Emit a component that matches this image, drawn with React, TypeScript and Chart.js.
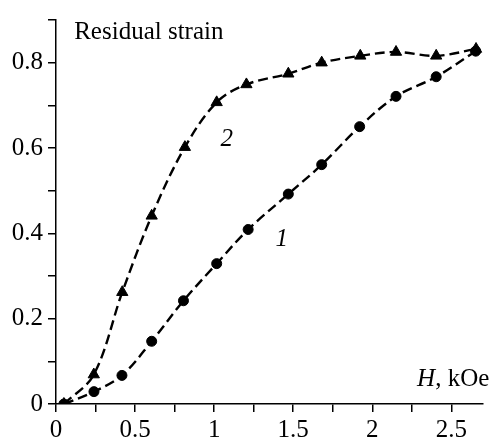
import React, { useEffect, useRef } from "react";
import { Chart, registerables } from "chart.js";

Chart.register(...registerables);

// Series 1 (circles)
const h1 = [0.05, 0.24, 0.417, 0.605, 0.806, 1.016, 1.215, 1.469, 1.68, 1.92, 2.15, 2.404, 2.654];
const strain1 = [0.0, 0.029, 0.067, 0.147, 0.242, 0.329, 0.409, 0.492, 0.561, 0.65, 0.721, 0.767, 0.827];

// Series 2 (triangles)
const h2 = [0.05, 0.239, 0.419, 0.605, 0.815, 1.016, 1.204, 1.469, 1.68, 1.924, 2.15, 2.404, 2.656];
const strain2 = [0.0, 0.069, 0.262, 0.441, 0.602, 0.707, 0.749, 0.774, 0.8, 0.816, 0.825, 0.816, 0.832];

const xTickValues = [0, 0.25, 0.5, 0.75, 1, 1.25, 1.5, 1.75, 2, 2.25, 2.5];
const xTickLabels = ["0", "", "0.5", "", "1", "", "1.5", "", "2", "", "2.5"];
const yTickValues = [0, 0.1, 0.2, 0.3, 0.4, 0.5, 0.6, 0.7, 0.8, 0.9];
const yTickLabels = ["0", "", "0.2", "", "0.4", "", "0.6", "", "0.8", ""];

const FONT = "'Liberation Serif', 'Times New Roman', serif";
const FS = 25;

Chart.defaults.font.family = FONT;
Chart.defaults.font.size = FS;
Chart.defaults.color = "#000";

const textPlugin = {
  id: "annotText",
  afterDraw(chart: any) {
    const { ctx, scales } = chart;
    const xs = scales.x;
    const ys = scales.y;
    ctx.save();
    ctx.fillStyle = "#000";
    ctx.textBaseline = "alphabetic";
    ctx.font = `${FS}px ${FONT}`;
    ctx.textAlign = "left";
    ctx.fillText("Residual strain", xs.getPixelForValue(0.115), ys.getPixelForValue(0.856));
    ctx.font = `italic ${FS}px ${FONT}`;
    ctx.textAlign = "center";
    ctx.textBaseline = "middle";
    ctx.fillText("2", xs.getPixelForValue(1.08), ys.getPixelForValue(0.62));
    ctx.fillText("1", xs.getPixelForValue(1.427), ys.getPixelForValue(0.386));
    ctx.textBaseline = "alphabetic";
    ctx.textAlign = "right";
    ctx.font = `${FS}px ${FONT}`;
    const rightX = xs.getPixelForValue(2.74);
    const baseY = ys.getPixelForValue(0.043);
    const rest = ", kOe";
    const wRest = ctx.measureText(rest).width;
    ctx.fillText(rest, rightX, baseY);
    ctx.font = `italic ${FS}px ${FONT}`;
    ctx.fillText("H", rightX - wRest, baseY);
    ctx.restore();
  },
};

export default function App() {
  const ref = useRef<HTMLCanvasElement>(null);
  useEffect(() => {
    if (!ref.current) return;
    const line = {
      borderColor: "#000",
      borderWidth: 2.4,
      borderDash: [10, 5],
      tension: 0.35,
      pointBackgroundColor: "#000",
      pointBorderColor: "#000",
      pointBorderWidth: 1,
      showLine: true,
      fill: false,
    };
    const gridOpts = {
      display: true,
      drawOnChartArea: false,
      drawTicks: true,
      tickLength: 8,
      color: "#000",
      lineWidth: 1.5,
    };
    const tickFont = { family: FONT, size: FS, style: "normal" as const, weight: "normal" as const };
    const chart = new Chart(ref.current, {
      type: "scatter",
      data: {
        datasets: [
          {
            ...line,
            label: "1",
            data: h1.map((x, i) => ({ x, y: strain1[i] })),
            pointStyle: "circle",
            pointRadius: 5,
          },
          {
            ...line,
            label: "2",
            data: h2.map((x, i) => ({ x, y: strain2[i] })),
            pointStyle: "triangle",
            pointRadius: 6.5,
          },
        ],
      },
      options: {
        animation: false,
        responsive: true,
        maintainAspectRatio: false,
        layout: { padding: { top: 12, right: 9, left: 0, bottom: 0 } },
        plugins: { legend: { display: false }, tooltip: { enabled: false } },
        scales: {
          x: {
            type: "linear",
            min: 0,
            max: 2.7,
            afterBuildTicks: (scale: any) => {
              scale.ticks = xTickValues.map((v) => ({ value: v }));
            },
            afterFit: (scale: any) => {
              scale.height = 37;
            },
            ticks: {
              autoSkip: false,
              maxRotation: 0,
              padding: 3,
              color: "#000",
              font: tickFont,
              callback: (_v: any, i: number) => xTickLabels[i],
            },
            grid: gridOpts,
            border: { display: true, color: "#000", width: 1.5 },
          },
          y: {
            type: "linear",
            min: 0,
            max: 0.9,
            afterBuildTicks: (scale: any) => {
              scale.ticks = yTickValues.map((v) => ({ value: v }));
            },
            afterFit: (scale: any) => {
              scale.width = 56;
            },
            ticks: {
              autoSkip: false,
              padding: 5,
              color: "#000",
              font: tickFont,
              callback: (_v: any, i: number) => yTickLabels[i],
            },
            grid: gridOpts,
            border: { display: true, color: "#000", width: 1.5 },
          },
        },
      },
      plugins: [textPlugin],
    });
    return () => chart.destroy();
  }, []);
  return (
    <div style={{ position: "absolute", left: 0, top: 0, width: 492, height: 441, background: "#fff" }}>
      <canvas ref={ref} />
    </div>
  );
}
